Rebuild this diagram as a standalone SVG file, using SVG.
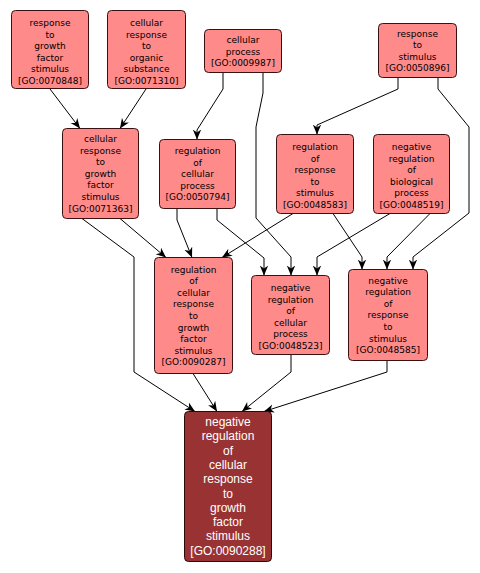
<svg xmlns="http://www.w3.org/2000/svg" width="480" height="573" viewBox="0 0 480 573">
<defs>
<marker id="arr" markerUnits="userSpaceOnUse" markerWidth="11" markerHeight="10" refX="10" refY="5" orient="auto" viewBox="0 0 11 10">
<path d="M0,0.8 L10,5 L0,9.2 L3,5 z" fill="#000"/>
</marker>
<style>
.n rect{fill:#ff8a8a;stroke:#3a1010;stroke-width:1}
.n text{font-family:"DejaVu Sans",Verdana,sans-serif;font-size:9px;fill:#000;text-anchor:middle}
.m rect{fill:#993333;stroke:#2a0a0a;stroke-width:1}
.m text{font-family:"Liberation Sans",Arial,sans-serif;font-size:12px;fill:#fff;text-anchor:middle}
.e path{fill:none;stroke:#000;stroke-width:1;marker-end:url(#arr)}
</style>
</defs>
<rect width="480" height="573" fill="#fff"/>
<g class="e" id="edges">
<path d="M50,89 L80,128.5"/>
<path d="M146,89 L120,128.5"/>
<path d="M223,72.5 V89 L197,130 V139.5"/>
<path d="M263,72.5 V93 L256,127 V218 L291,257 V275.5"/>
<path d="M398,77.5 V89 L317,125 V134.5"/>
<path d="M438,77.5 V89 L469,127 V213 L413,257 V269.5"/>
<path d="M120,218.5 L166,257.5"/>
<path d="M82,218.5 L134,257 V372 L195,411.5"/>
<path d="M177,208.5 V220 L192,257.5"/>
<path d="M217,208.5 V220 L264,258 V275.5"/>
<path d="M293,213.5 L222,257.5"/>
<path d="M333,213.5 L362,257 V269.5"/>
<path d="M390,213.5 L317,257 V275.5"/>
<path d="M430,213.5 L387,257 V269.5"/>
<path d="M193,373.5 L217,411.5"/>
<path d="M291,354.5 V372 L242,411.5"/>
<path d="M387,360.5 V372 L264,411.5"/>
</g>
<g class="n" id="GO0070848">
<rect x="11.5" y="10.5" width="77" height="78" rx="4"/>
<text x="50" y="26">response</text><text x="50" y="37.6">to</text><text x="50" y="49.2">growth</text><text x="50" y="60.8">factor</text><text x="50" y="72.4">stimulus</text><text x="50" y="84">[GO:0070848]</text>
</g>
<g class="n" id="GO0071310">
<rect x="107.5" y="10.5" width="78" height="78" rx="4"/>
<text x="146.5" y="26">cellular</text><text x="146.5" y="37.6">response</text><text x="146.5" y="49.2">to</text><text x="146.5" y="60.8">organic</text><text x="146.5" y="72.4">substance</text><text x="146.5" y="84">[GO:0071310]</text>
</g>
<g class="n" id="GO0009987">
<rect x="204.5" y="29.5" width="77" height="43" rx="4"/>
<text x="243" y="43">cellular</text><text x="243" y="54.6">process</text><text x="243" y="66.2">[GO:0009987]</text>
</g>
<g class="n" id="GO0050896">
<rect x="378.5" y="23.5" width="78" height="54" rx="4"/>
<text x="417.5" y="36.5">response</text><text x="417.5" y="48.1">to</text><text x="417.5" y="59.7">stimulus</text><text x="417.5" y="71.3">[GO:0050896]</text>
</g>
<g class="n" id="GO0071363">
<rect x="62.5" y="128.5" width="76" height="90" rx="4"/>
<text x="100.5" y="142">cellular</text><text x="100.5" y="153.6">response</text><text x="100.5" y="165.2">to</text><text x="100.5" y="176.8">growth</text><text x="100.5" y="188.4">factor</text><text x="100.5" y="200">stimulus</text><text x="100.5" y="211.6">[GO:0071363]</text>
</g>
<g class="n" id="GO0050794">
<rect x="159.5" y="139.5" width="76" height="69" rx="4"/>
<text x="197.5" y="154">regulation</text><text x="197.5" y="165.6">of</text><text x="197.5" y="177.2">cellular</text><text x="197.5" y="188.8">process</text><text x="197.5" y="200.4">[GO:0050794]</text>
</g>
<g class="n" id="GO0048583">
<rect x="276.5" y="134.5" width="77" height="79" rx="4"/>
<text x="315" y="150">regulation</text><text x="315" y="161.6">of</text><text x="315" y="173.2">response</text><text x="315" y="184.8">to</text><text x="315" y="196.4">stimulus</text><text x="315" y="208">[GO:0048583]</text>
</g>
<g class="n" id="GO0048519">
<rect x="373.5" y="134.5" width="76" height="79" rx="4"/>
<text x="411.5" y="150">negative</text><text x="411.5" y="161.6">regulation</text><text x="411.5" y="173.2">of</text><text x="411.5" y="184.8">biological</text><text x="411.5" y="196.4">process</text><text x="411.5" y="208">[GO:0048519]</text>
</g>
<g class="n" id="GO0090287">
<rect x="154.5" y="257.5" width="78" height="116" rx="4"/>
<text x="193.5" y="272.5">regulation</text><text x="193.5" y="284.1">of</text><text x="193.5" y="295.7">cellular</text><text x="193.5" y="307.3">response</text><text x="193.5" y="318.9">to</text><text x="193.5" y="330.5">growth</text><text x="193.5" y="342.1">factor</text><text x="193.5" y="353.7">stimulus</text><text x="193.5" y="365.3">[GO:0090287]</text>
</g>
<g class="n" id="GO0048523">
<rect x="251.5" y="275.5" width="78" height="79" rx="4"/>
<text x="290.5" y="291">negative</text><text x="290.5" y="302.6">regulation</text><text x="290.5" y="314.2">of</text><text x="290.5" y="325.8">cellular</text><text x="290.5" y="337.4">process</text><text x="290.5" y="349">[GO:0048523]</text>
</g>
<g class="n" id="GO0048585">
<rect x="348.5" y="269.5" width="79" height="91" rx="4"/>
<text x="388" y="283.5">negative</text><text x="388" y="295.1">regulation</text><text x="388" y="306.7">of</text><text x="388" y="318.3">response</text><text x="388" y="329.9">to</text><text x="388" y="341.5">stimulus</text><text x="388" y="353.1">[GO:0048585]</text>
</g>
<g class="m" id="GO0090288">
<rect x="184.5" y="411.5" width="87" height="150" rx="4"/>
<text x="228" y="426">negative</text><text x="228" y="440.3">regulation</text><text x="228" y="454.6">of</text><text x="228" y="468.9">cellular</text><text x="228" y="483.2">response</text><text x="228" y="497.5">to</text><text x="228" y="511.8">growth</text><text x="228" y="526.1">factor</text><text x="228" y="540.4">stimulus</text><text x="228" y="554.7">[GO:0090288]</text>
</g>
</svg>
